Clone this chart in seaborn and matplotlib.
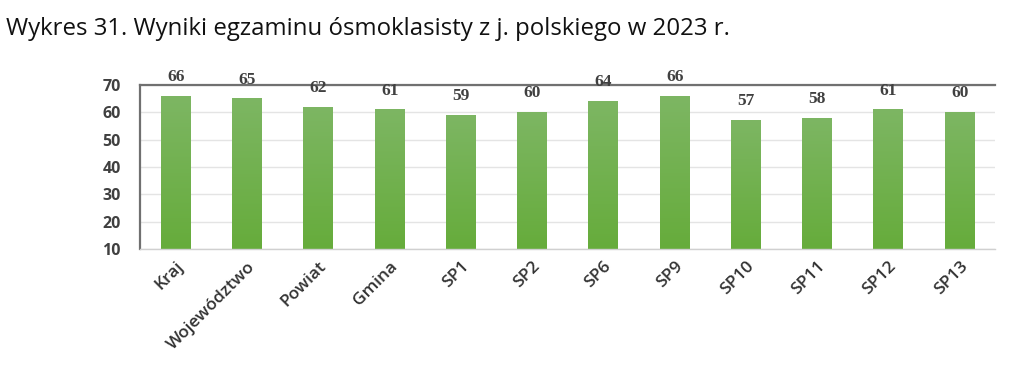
import numpy as np
import pandas as pd
import matplotlib
matplotlib.use("Agg")
import matplotlib.pyplot as plt
import seaborn as sns
from matplotlib.colors import LinearSegmentedColormap

categories = ["Kraj", "Województwo", "Powiat", "Gmina", "SP1", "SP2", "SP6", "SP9", "SP10", "SP11", "SP12", "SP13"]
values = [66, 65, 62, 61, 59, 60, 64, 66, 57, 58, 61, 60]
yticks = [10, 20, 30, 40, 50, 60, 70]
title = "Wykres 31. Wyniki egzaminu ósmoklasisty z j. polskiego w 2023 r."

sns.set_style("white")
plt.rcParams['font.family'] = ['Open Sans', 'DejaVu Sans']

df = pd.DataFrame({"cat": categories, "val": values})

fig = plt.figure(figsize=(10.24, 3.67), dpi=100)
ax = fig.add_axes([0.137, 0.322, 0.835, 0.446])

sns.barplot(data=df, x="cat", y="val", ax=ax, color="#70AD47", width=0.42, saturation=1)

ymin, ymax = 10, 70
ax.set_ylim(ymin, ymax)
ax.set_xlim(-0.5, len(categories) - 0.5)
ax.set_yticks(yticks)
ax.set_yticklabels([str(t) for t in yticks], fontsize=11.5, fontweight='bold', color='#404040')
ax.set_xlabel("")
ax.set_ylabel("")
ax.yaxis.grid(True, color='#E4E4E4', linewidth=1)
ax.set_axisbelow(True)
ax.tick_params(axis='y', length=0, pad=14)
ax.tick_params(axis='x', length=0, pad=7)
plt.setp(ax.get_xticklabels(), rotation=45, ha='right', rotation_mode='anchor', fontsize=12.5,
         color='#333333', fontweight='semibold')

for s in ['left', 'top']:
    ax.spines[s].set_color('#707070')
    ax.spines[s].set_linewidth(1.6)
ax.spines['right'].set_visible(False)
ax.spines['bottom'].set_color('#D0D0D0')
ax.spines['bottom'].set_linewidth(1)

# gradient fill per bar (limited to the visible axis range)
cmap = LinearSegmentedColormap.from_list("g", ["#66AC3B", "#7DB663"])
grad = np.linspace(0, 1, 256).reshape(-1, 1)
for p in list(ax.patches):
    x0, y0 = p.get_x(), p.get_y()
    w, h = p.get_width(), p.get_height()
    y1 = y0 + h
    yb = max(y0, ymin)
    p.set_visible(False)
    ax.imshow(grad, extent=[x0, x0 + w, yb, y1], origin='lower', aspect='auto',
              cmap=cmap, zorder=2)
ax.set_xlim(-0.5, len(categories) - 0.5)
ax.set_ylim(ymin, ymax)

for i, v in enumerate(values):
    ax.annotate(str(v), (i, v), xytext=(0, 8), textcoords='offset points', ha='center', va='bottom',
                fontsize=12.5, color='#404040', family=['Liberation Serif'], fontweight='bold',
                annotation_clip=False)

fig.text(0.006, 0.905, title, fontsize=17.3, color='#111111', ha='left', va='baseline')

fig.savefig("out.png", dpi=100)
